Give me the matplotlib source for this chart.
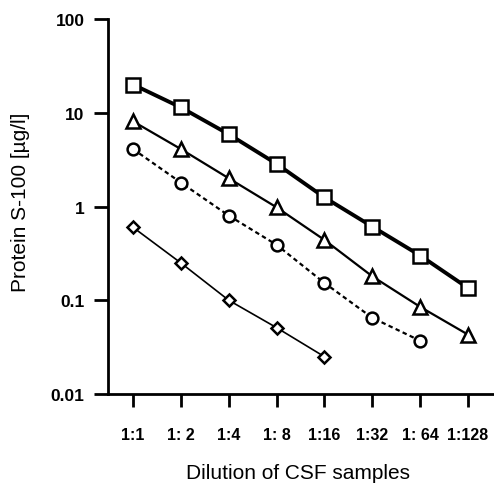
import matplotlib
matplotlib.use("Agg")
import matplotlib.pyplot as plt

plt.rcParams['font.family'] = ['Liberation Sans', 'DejaVu Sans']

dilutions = ["1:1", "1: 2", "1:4", "1: 8", "1:16", "1:32", "1: 64", "1:128"]
squares = [20, 11.4, 5.9, 2.85, 1.25, 0.61, 0.30, 0.135]
triangles = [8.1, 4.1, 2.0, 0.98, 0.44, 0.18, 0.085, 0.043]
circles = [4.1, 1.8, 0.80, 0.39, 0.153, 0.065, 0.037]
diamonds = [0.60, 0.25, 0.10, 0.051, 0.025]
yticks = [0.01, 0.1, 1, 10, 100]
ytick_labels = ["0.01", "0.1", "1", "10", "100"]

W, H = 494, 485
fig = plt.figure(figsize=(W/100, H/100), dpi=100)
ax = fig.add_axes([108/W, 1-395/H, 1-108/W, (395-20)/H])

x = list(range(len(dilutions)))
ax.plot(x[:len(squares)], squares, '-', color='black', lw=2.8, marker='s', ms=10,
        mfc='white', mec='black', mew=1.8)
ax.plot(x[:len(triangles)], triangles, '-', color='black', lw=1.6, marker='^', ms=10,
        mfc='white', mec='black', mew=1.8)
ax.plot(x[:len(circles)], circles, color='black', lw=1.6, ls=(0, (2, 1.5)), marker='o', ms=8.5,
        mfc='white', mec='black', mew=1.8)
ax.plot(x[:len(diamonds)], diamonds, '-', color='black', lw=1.2, marker='D', ms=6,
        mfc='white', mec='black', mew=1.8)

ax.set_yscale('log')
ax.set_ylim(0.01, 100)
ax.set_xlim(-25/47.86, 7 + 26/47.86)
ax.set_yticks(yticks)
ax.set_yticklabels(ytick_labels)
ax.minorticks_off()
ax.set_xticks(x)
ax.set_xticklabels(dilutions)

for s in ['top', 'right']:
    ax.spines[s].set_visible(False)
for s in ['left', 'bottom']:
    ax.spines[s].set_linewidth(2)

ax.tick_params(axis='y', direction='out', length=10, width=2, pad=7, labelsize=12.5)
ax.tick_params(axis='x', direction='out', length=9, width=2, pad=15, labelsize=11.5)
for lab in ax.get_xticklabels() + ax.get_yticklabels():
    lab.set_fontweight('bold')

fig.text(21/W, 1-202/H, "Protein S-100 [µg/l]", fontsize=15, rotation=90,
         ha='center', va='center')
fig.text(298/W, 1-474/H, "Dilution of CSF samples", fontsize=15,
         ha='center', va='center')

fig.savefig("out.png", dpi=100)
